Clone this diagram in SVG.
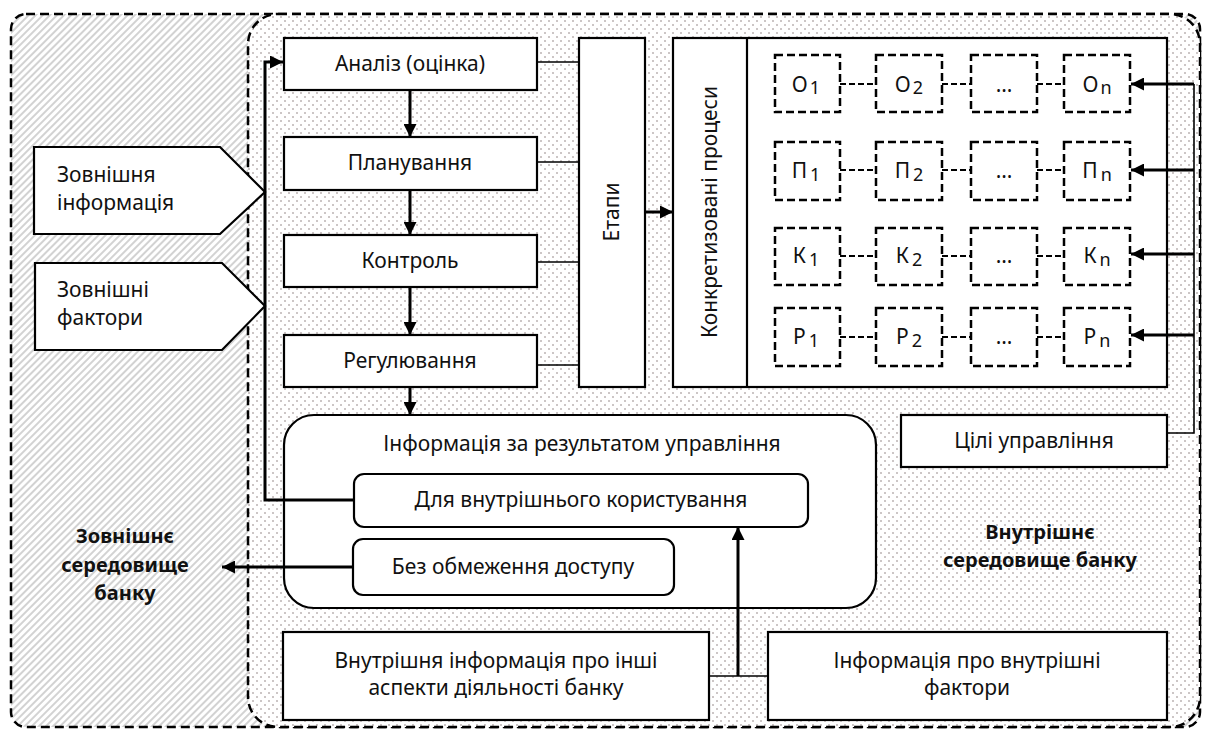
<svg xmlns="http://www.w3.org/2000/svg" width="1209" height="731" viewBox="0 0 1209 731">
<style>
text{font-family:"Noto Sans","Open Sans","DejaVu Sans",sans-serif;font-size:21px;fill:#111}
.c{text-anchor:middle}
.b{font-weight:bold;font-size:20px}
.box{fill:#fff;stroke:#000;stroke-width:2.2}
.dbox{fill:#fff;stroke:#000;stroke-width:2.5;stroke-dasharray:8 4}
.ln{fill:none;stroke:#000;stroke-width:1.6}
.th{fill:none;stroke:#000;stroke-width:3}
.dl{fill:none;stroke:#000;stroke-width:2;stroke-dasharray:6 3}
.sub{font-size:18px}
</style>
<defs>
<pattern id="hatch" width="5" height="5" patternUnits="userSpaceOnUse" patternTransform="rotate(45)">
<rect width="5" height="5" fill="#fff"/>
<line x1="1" y1="0" x2="1" y2="5" stroke="#c4c4c4" stroke-width="1.5"/>
</pattern>
<pattern id="dots" width="8" height="8" patternUnits="userSpaceOnUse">
<rect width="8" height="8" fill="#fff"/>
<rect x="0" y="0" width="2" height="2" fill="#ccc6c6"/>
<rect x="4" y="4" width="2" height="2" fill="#ccc6c6"/>
</pattern>
<marker id="arr" viewBox="0 0 10 10" refX="10" refY="5" markerWidth="15" markerHeight="13" markerUnits="userSpaceOnUse" orient="auto">
<path d="M0,0 L10,5 L0,10 z" fill="#000"/>
</marker>
</defs>

<g id="external-env">
<rect x="11" y="14" width="1189" height="713" rx="15" fill="url(#hatch)" stroke="#000" stroke-width="2.5" stroke-dasharray="9 5"/>
<text class="c b" x="125" y="543">Зовнішнє</text>
<text class="c b" x="125" y="572">середовище</text>
<text class="c b" x="125" y="600">банку</text>
</g>
<g id="internal-env">
<rect x="248" y="14" width="952" height="713" rx="30" fill="url(#dots)" stroke="#000" stroke-width="2.5" stroke-dasharray="9 5"/>
<text class="c b" x="1040" y="539">Внутрішнє</text>
<text class="c b" x="1040" y="567">середовище банку</text>
</g>

<g id="ext-info">
<path class="box" d="M34,147 H220 L265,192 L220,234 H34 Z"/>
<text x="57" y="182">Зовнішня</text>
<text x="57" y="210">інформація</text>
</g>
<g id="ext-factors">
<path class="box" d="M35,263 H222 L265,306 L222,350 H35 Z"/>
<text x="57" y="297">Зовнішні</text>
<text x="57" y="325">фактори</text>
</g>

<g id="analysis">
<rect class="box" x="284" y="38" width="253" height="52"/>
<text class="c" x="410" y="71">Аналіз (оцінка)</text>
</g>
<g id="planning">
<rect class="box" x="284" y="137" width="253" height="53"/>
<text class="c" x="410" y="170">Планування</text>
</g>
<g id="control">
<rect class="box" x="284" y="235" width="253" height="52"/>
<text class="c" x="410" y="268">Контроль</text>
</g>
<g id="regulation">
<rect class="box" x="284" y="335" width="253" height="52"/>
<text class="c" x="410" y="368">Регулювання</text>
</g>

<g id="stages">
<rect class="box" x="579" y="38" width="66" height="349"/>
<text class="c" transform="translate(619,212) rotate(-90)">Етапи</text>
</g>

<g id="processes">
<rect class="box" x="673" y="38" width="494" height="349"/>
<line x1="747" y1="38" x2="747" y2="387" stroke="#000" stroke-width="2.2"/>
<text class="c" transform="translate(717,212) rotate(-90)">Конкретизовані процеси</text>
</g>

<g id="row-o">
<rect class="dbox" x="775" y="55" width="65" height="57"/>
<rect class="dbox" x="876" y="55" width="66" height="57"/>
<rect class="dbox" x="971" y="55" width="66" height="57"/>
<rect class="dbox" x="1064" y="55" width="66" height="57"/>
<text class="c" x="806" y="92">О<tspan class="sub" dx="2" dy="2">1</tspan></text>
<text class="c" x="909" y="92">О<tspan class="sub" dx="2" dy="2">2</tspan></text>
<text class="c" x="1004" y="92">…</text>
<text class="c" x="1097" y="92">О<tspan class="sub" dx="2" dy="2">n</tspan></text>
</g>
<g id="row-p">
<rect class="dbox" x="775" y="142" width="65" height="58"/>
<rect class="dbox" x="876" y="142" width="66" height="58"/>
<rect class="dbox" x="971" y="142" width="66" height="58"/>
<rect class="dbox" x="1064" y="142" width="66" height="58"/>
<text class="c" x="806" y="178">П<tspan class="sub" dx="3" dy="3">1</tspan></text>
<text class="c" x="909" y="178">П<tspan class="sub" dx="3" dy="3">2</tspan></text>
<text class="c" x="1004" y="178">…</text>
<text class="c" x="1097" y="178">П<tspan class="sub" dx="3" dy="3">n</tspan></text>
</g>
<g id="row-k">
<rect class="dbox" x="775" y="228" width="65" height="57"/>
<rect class="dbox" x="876" y="228" width="66" height="57"/>
<rect class="dbox" x="971" y="228" width="66" height="57"/>
<rect class="dbox" x="1064" y="228" width="66" height="57"/>
<text class="c" x="806" y="263">К<tspan class="sub" dx="3" dy="3">1</tspan></text>
<text class="c" x="909" y="263">К<tspan class="sub" dx="3" dy="3">2</tspan></text>
<text class="c" x="1004" y="263">…</text>
<text class="c" x="1097" y="263">К<tspan class="sub" dx="3" dy="3">n</tspan></text>
</g>
<g id="row-r">
<rect class="dbox" x="775" y="308" width="65" height="58"/>
<rect class="dbox" x="876" y="308" width="66" height="58"/>
<rect class="dbox" x="971" y="308" width="66" height="58"/>
<rect class="dbox" x="1064" y="308" width="66" height="58"/>
<text class="c" x="806" y="344">Р<tspan class="sub" dx="3" dy="3">1</tspan></text>
<text class="c" x="909" y="344">Р<tspan class="sub" dx="3" dy="3">2</tspan></text>
<text class="c" x="1004" y="344">…</text>
<text class="c" x="1097" y="344">Р<tspan class="sub" dx="3" dy="3">n</tspan></text>
</g>

<g id="goals">
<rect class="box" x="901" y="415" width="266" height="52"/>
<text class="c" x="1034" y="448">Цілі управління</text>
</g>

<g id="result-info">
<rect class="box" x="284" y="415" width="592" height="193" rx="30"/>
<text class="c" x="582" y="451">Інформація за результатом управління</text>
</g>
<g id="internal-use">
<rect class="box" x="354" y="474" width="454" height="53" rx="10"/>
<text class="c" x="581" y="507">Для внутрішнього користування</text>
</g>
<g id="open-access">
<rect class="box" x="353" y="539" width="321" height="56" rx="10"/>
<text class="c" x="513" y="574">Без обмеження доступу</text>
</g>

<g id="other-info">
<rect class="box" x="283" y="632" width="426" height="88"/>
<text class="c" x="496" y="668">Внутрішня інформація про інші</text>
<text class="c" x="496" y="695">аспекти діяльності банку</text>
</g>
<g id="internal-factors">
<rect class="box" x="768" y="632" width="399" height="88"/>
<text class="c" x="967" y="668">Інформація про внутрішні</text>
<text class="c" x="967" y="695">фактори</text>
</g>

<g id="connectors">
<path class="th" d="M354,500 H265 V62 H283" stroke-width="2" marker-end="url(#arr)"/>
<path class="th" d="M410,90 V137" marker-end="url(#arr)"/>
<path class="th" d="M410,190 V235" marker-end="url(#arr)"/>
<path class="th" d="M410,287 V335" marker-end="url(#arr)"/>
<path class="th" d="M410,387 V415" marker-end="url(#arr)"/>
<path class="ln" d="M537,62 H579 M537,162 H579 M537,262 H579 M537,365 H579"/>
<path class="th" d="M645,212 H673" marker-end="url(#arr)"/>
<path class="ln" d="M1167,433 H1194 V84" stroke-width="2.2"/>
<path class="th" d="M1194,84 H1131" marker-end="url(#arr)"/>
<path class="th" d="M1194,170 H1131" marker-end="url(#arr)"/>
<path class="th" d="M1194,254 H1131" marker-end="url(#arr)"/>
<path class="th" d="M1194,335 H1131" marker-end="url(#arr)"/>
<path class="dl" d="M840,84 H876 M942,84 H971 M1037,84 H1064"/>
<path class="dl" d="M840,170 H876 M942,170 H971 M1037,170 H1064"/>
<path class="dl" d="M840,256 H876 M942,256 H971 M1037,256 H1064"/>
<path class="dl" d="M840,337 H876 M942,337 H971 M1037,337 H1064"/>
<path class="th" d="M353,567 H222" marker-end="url(#arr)"/>
<path class="ln" d="M709,676 H768"/>
<path class="th" d="M738,676 V527" marker-end="url(#arr)"/>
</g>
</svg>
